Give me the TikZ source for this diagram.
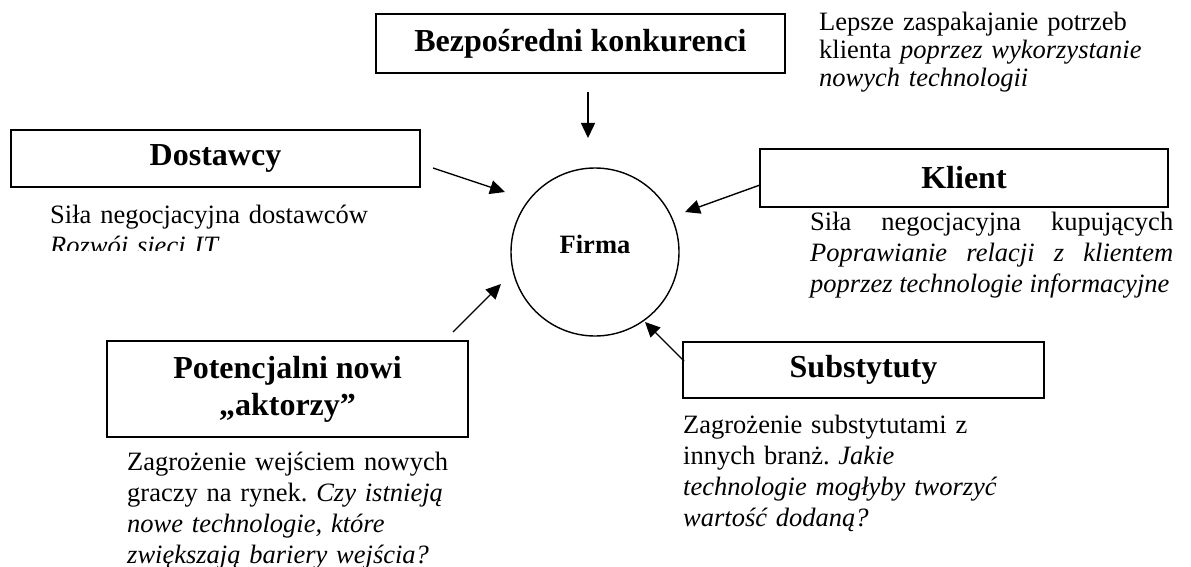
\documentclass[tikz,border=0pt]{standalone}
\usepackage{fontspec}
\setmainfont{Liberation Serif}
\usetikzlibrary{arrows.meta}
\frenchspacing

\begin{document}
\begin{tikzpicture}[x=1pt, y=-1pt,
  force/.style={draw, line width=1.8pt, inner sep=0pt, align=center,
    font=\fontsize{32}{37}\selectfont\bfseries},
  note/.style={inner sep=0pt, anchor=base west, align=left, text width=380pt,
    font=\fontsize{26.5}{31}\selectfont},
  push/.style={line width=1.4pt, -{Triangle[length=15pt,width=14pt]}}]
\useasboundingbox (0,0) rectangle (1191,567);

% firma w srodku
\node[circle, draw, line width=1.4pt, minimum size=168pt, inner sep=0pt] (firma) at (595,252) {};
\node[font=\fontsize{26.5}{30}\selectfont\bfseries] (firmatxt) at (595,244) {Firma};

% piec sil
\node[force, minimum width=409pt, minimum height=59pt] (konk) at (580.5,43.5) {Bezpośredni konkurenci};
\node[force, minimum width=409pt, minimum height=57pt] (dost) at (215.5,158.5) {Dostawcy};
\node[force, minimum width=408pt, minimum height=58pt] (klient) at (964,178) {Klient};
\node[force, minimum width=361pt, minimum height=96pt] (nowi) at (287.5,389) {Potencjalni nowi\\„aktorzy”};
\node[force, minimum width=361pt, minimum height=56pt] (subst) at (863.5,370) {Substytuty};

% opisy
\node[note, font=\fontsize{26.5}{28}\selectfont] (konknote) at (819,31)
  {Lepsze zaspakajanie potrzeb\\ klienta \textit{poprzez wykorzystanie}\\ \textit{nowych technologii}};
\begin{scope}
  \clip (0,195) rectangle (480,250);
  \node[note] (dostnote) at (50,223) {Siła negocjacyjna dostawców\\ \textit{Rozwój sieci IT}};
\end{scope}
\node[note, align=justify, text width=363pt] (klientnote) at (810,230)
  {Siła negocjacyjna kupujących\linebreak \textit{Poprawianie relacji z klientem}\linebreak \textit{poprzez technologie informacyjne}};
\node[note] (nowinote) at (127,470)
  {Zagrożenie wejściem nowych\\ graczy na rynek. \textit{Czy istnieją}\\ \textit{nowe technologie, które}\\ \textit{zwiększają bariery wejścia?}};
\node[note] (substnote) at (683,433)
  {Zagrożenie substytutami z\\ innych branż. \textit{Jakie}\\ \textit{technologie mogłyby tworzyć}\\ \textit{wartość dodaną?}};

% strzalki do firmy
\coordinate (k1) at (588,92);   \coordinate (k2) at (588,138);
\coordinate (d1) at (433,168);  \coordinate (d2) at (505,192);
\coordinate (c1) at (760,185);  \coordinate (c2) at (685,212);
\coordinate (n1) at (453,332);  \coordinate (n2) at (501,284);
\coordinate (s1) at (684,361);  \coordinate (s2) at (645,322);
\draw[push] (k1) -- (k2);
\draw[push] (d1) -- (d2);
\draw[push] (c1) -- (c2);
\draw[push] (n1) -- (n2);
\draw[push] (s1) -- (s2);
\end{tikzpicture}
\end{document}
